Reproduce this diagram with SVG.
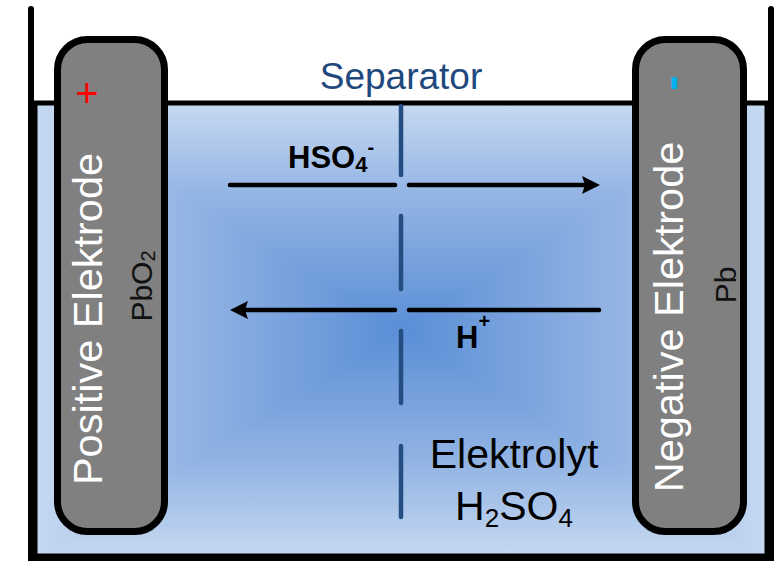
<svg xmlns="http://www.w3.org/2000/svg" width="784" height="562" viewBox="0 0 784 562">
  <defs>
    <style>
      text { font-family: "Liberation Sans", Arial, sans-serif; }
      .wall { fill: none; stroke: #000; stroke-width: 6; stroke-linecap: round; stroke-linejoin: miter; }
      .electrode { fill: #808080; stroke: #000; stroke-width: 7; }
      .elabel { fill: #fff; font-size: 41.5px; text-anchor: middle; }
      .mat { fill: #111; font-size: 30px; text-anchor: middle; }
      .sep { stroke: #244e82; stroke-width: 4.5; stroke-linecap: round; }
      .arrow { stroke: #000; stroke-width: 4.5; stroke-linecap: round; fill: none; }
      .ion { font-size: 31px; font-weight: bold; fill: #000; }
      .big { font-size: 41px; fill: #000; text-anchor: middle; }
    </style>
    <radialGradient id="gBase" gradientUnits="userSpaceOnUse" cx="401" cy="330" r="380" gradientTransform="translate(401 330) scale(1 0.62) translate(-401 -330)">
      <stop offset="0" stop-color="#5b8fd6"/>
      <stop offset="0.6" stop-color="#92b3e3"/>
      <stop offset="1" stop-color="#c6d9f1"/>
    </radialGradient>
    <linearGradient id="gTop" gradientUnits="userSpaceOnUse" x1="0" y1="103" x2="0" y2="330">
      <stop offset="0" stop-color="#c6d9f1"/>
      <stop offset="0.4" stop-color="#94b5e4"/>
      <stop offset="1" stop-color="#5a8ed6"/>
    </linearGradient>
    <linearGradient id="gBot" gradientUnits="userSpaceOnUse" x1="0" y1="556" x2="0" y2="330">
      <stop offset="0" stop-color="#c6d9f1"/>
      <stop offset="0.4" stop-color="#94b5e4"/>
      <stop offset="1" stop-color="#5a8ed6"/>
    </linearGradient>
    <linearGradient id="gLeft" gradientUnits="userSpaceOnUse" x1="35" y1="0" x2="401" y2="0">
      <stop offset="0" stop-color="#c6d9f1"/>
      <stop offset="0.4" stop-color="#94b5e4"/>
      <stop offset="1" stop-color="#5a8ed6"/>
    </linearGradient>
    <linearGradient id="gRight" gradientUnits="userSpaceOnUse" x1="767" y1="0" x2="401" y2="0">
      <stop offset="0" stop-color="#c6d9f1"/>
      <stop offset="0.4" stop-color="#94b5e4"/>
      <stop offset="1" stop-color="#5a8ed6"/>
    </linearGradient>
    <marker id="head" markerUnits="userSpaceOnUse" markerWidth="20" markerHeight="20" refX="8" refY="9" orient="auto">
      <path d="M0,0 L18,9 L0,18 L3,9 Z" fill="#000"/>
    </marker>
  </defs>

  <g id="electrolyte">
    <rect x="35" y="103" width="732" height="453" fill="url(#gBase)"/>
    <polygon points="35,103 767,103 401,330" fill="url(#gTop)"/>
    <polygon points="35,556 767,556 401,330" fill="url(#gBot)"/>
    <polygon points="35,103 35,556 401,330" fill="url(#gLeft)"/>
    <polygon points="767,103 767,556 401,330" fill="url(#gRight)"/>
    <rect x="35" y="103" width="732" height="453" fill="none" stroke="#000" stroke-width="5"/>
  </g>

  <g id="container">
    <path class="wall" d="M31,9 V558 H771 V9"/>
  </g>

  <g id="separator">
    <line class="sep" x1="401" y1="106" x2="401" y2="175"/>
    <line class="sep" x1="401" y1="216" x2="401" y2="289"/>
    <line class="sep" x1="401" y1="331" x2="401" y2="403"/>
    <line class="sep" x1="401" y1="446" x2="401" y2="517"/>
    <text x="401" y="89" font-size="37" fill="#1f497d" text-anchor="middle">Separator</text>
  </g>

  <g id="positive-electrode">
    <rect class="electrode" x="57.5" y="39.5" width="107" height="492" rx="30" ry="30"/>
    <text x="87" y="107" font-size="40" fill="#ff0000" text-anchor="middle">+</text>
    <text class="elabel" transform="translate(102 319) rotate(-90)" x="0" y="0">Positive Elektrode</text>
    <text class="mat" transform="translate(152 286) rotate(-90)" x="0" y="0">PbO<tspan font-size="20" dy="3">2</tspan></text>
  </g>

  <g id="negative-electrode">
    <rect class="electrode" x="635.5" y="39.5" width="108" height="492" rx="30" ry="30"/>
    <text transform="translate(673 83) rotate(-90)" x="0" y="13" font-size="46" font-weight="bold" fill="#00b0f0" text-anchor="middle">-</text>
    <text class="elabel" transform="translate(683 317) rotate(-90)" x="0" y="0">Negative Elektrode</text>
    <text class="mat" transform="translate(736 285) rotate(-90)" x="0" y="0">Pb</text>
  </g>

  <g id="connectors">
    <line class="arrow" x1="230" y1="185" x2="395" y2="185"/>
    <line class="arrow" x1="409" y1="185" x2="590" y2="185" marker-end="url(#head)"/>
    <line class="arrow" x1="599" y1="310" x2="409" y2="310"/>
    <line class="arrow" x1="395" y1="310" x2="240" y2="310" marker-end="url(#head)"/>
  </g>

  <g id="ion-labels">
    <text class="ion" x="288" y="168">HSO<tspan font-size="22" dy="4">4</tspan><tspan font-size="20" dy="-18">-</tspan></text>
    <text class="ion" x="456" y="348">H<tspan font-size="20" dy="-20">+</tspan></text>
  </g>

  <g id="electrolyte-label">
    <text class="big" x="514" y="468">Elektrolyt</text>
    <text class="big" x="514" y="520">H<tspan font-size="26" dy="7">2</tspan><tspan dy="-7">SO</tspan><tspan font-size="26" dy="7">4</tspan></text>
  </g>
</svg>
